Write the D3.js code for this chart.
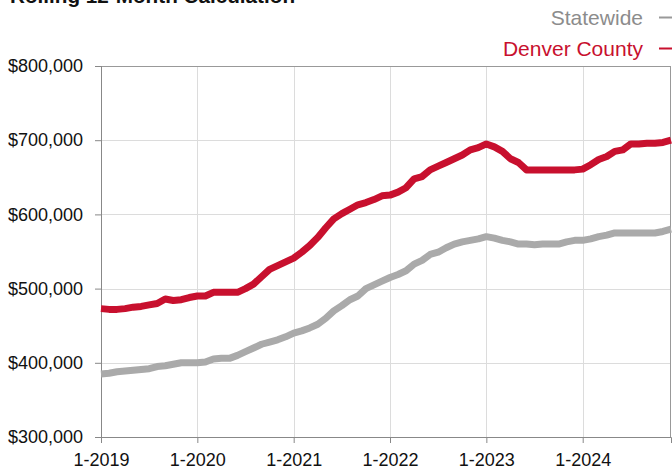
<!DOCTYPE html>
<html>
<head>
<meta charset="utf-8">
<script src="https://cdn.jsdelivr.net/npm/d3@7"></script>
<style>
  body { margin: 0; background: #fff; }
  svg { display: block; font-family: Helvetica, Arial, "Liberation Sans", sans-serif; }
</style>
</head>
<body>
<div id="chart"></div>
<script>
// tick labels along the bottom (one per January)
var yearLabels = ["1-2019", "1-2020", "1-2021", "1-2022", "1-2023", "1-2024"];

// monthly values, Jan 2019 .. Dec 2024 (rolling 12-month median price)
var statewide = [
  385000, 386000, 388000, 389000, 390000, 391000, 392000, 395000, 396000, 398000, 400000, 400000,
  400000, 401000, 405000, 406000, 406000, 410000, 415000, 420000, 425000, 428000, 431000, 435000,
  440000, 443000, 447000, 452000, 460000, 470000, 477000, 485000, 490000, 500000, 505000, 510000,
  515000, 519000, 524000, 533000, 538000, 546000, 549000, 555000, 560000, 563000, 565000, 567000,
  570000, 568000, 565000, 563000, 560000, 560000, 559000, 560000, 560000, 560000, 563000, 565000,
  565000, 567000, 570000, 572000, 575000, 575000, 575000, 575000, 575000, 575000, 577000, 580000
];
var denver = [
  473000, 472000, 472000, 473000, 475000, 476000, 478000, 480000, 486000, 484000, 485000, 488000,
  490000, 490000, 495000, 495000, 495000, 495000, 500000, 506000, 516000, 526000, 531000, 536000,
  541000, 549000, 558000, 569000, 582000, 594000, 601000, 607000, 613000, 616000, 620000, 625000,
  626000, 630000, 636000, 648000, 651000, 660000, 665000, 670000, 675000, 680000, 687000, 690000,
  695000, 691000, 685000, 675000, 670000, 660000, 660000, 660000, 660000, 660000, 660000, 660000,
  661000, 667000, 674000, 678000, 685000, 687000, 695000, 695000, 696000, 696000, 697000, 700000
];

var seriesNames = ["Statewide", "Denver County"];
var seriesColors = ["#aaaaaa", "#c8102e"];
var legendTextColors = ["#8c8c8c", "#c8102e"];

var svgWidth = 672;
var svgHeight = 466;

var margin = { top: 66, right: 1, bottom: 29, left: 101 };

var chartWidth = svgWidth - margin.left - margin.right;
var chartHeight = svgHeight - margin.top - margin.bottom;

var svg = d3.select("#chart")
  .append("svg")
  .attr("width", svgWidth)
  .attr("height", svgHeight);

// title (mostly cropped off at the top)
svg.append("text")
  .attr("x", 10)
  .attr("y", 3)
  .attr("font-size", 20.7)
  .attr("font-weight", "bold")
  .attr("fill", "#111")
  .text("Rolling 12-Month Calculation");

// legend
seriesNames.forEach(function(name, i) {
  var yy = 25 + i * 31;
  svg.append("text")
    .attr("x", 643)
    .attr("y", yy)
    .attr("text-anchor", "end")
    .attr("font-size", 21)
    .attr("fill", legendTextColors[i])
    .text(name);
  svg.append("line")
    .attr("x1", 659).attr("x2", 672)
    .attr("y1", yy - 7.5).attr("y2", yy - 7.5)
    .attr("stroke", i === 0 ? "#999" : seriesColors[i])
    .attr("stroke-width", 2);
});

var chartGroup = svg.append("g")
  .attr("transform", `translate(${margin.left}, ${margin.top})`);

var xScale = d3.scaleLinear()
  .domain([0, denver.length - 1])
  .range([0, chartWidth]);

var yScale = d3.scaleLinear()
  .domain([300000, 800000])
  .range([chartHeight, 0]);

var yTicks = d3.range(300000, 800001, 100000);
var xTicks = yearLabels.map((d, i) => i * 12);

// grid lines
chartGroup.append("g")
  .selectAll("line")
  .data(yTicks)
  .enter()
  .append("line")
  .attr("x1", 0).attr("x2", chartWidth)
  .attr("y1", d => Math.round(yScale(d)) + 0.5)
  .attr("y2", d => Math.round(yScale(d)) + 0.5)
  .attr("stroke", "#dcdcdc");

chartGroup.append("g")
  .selectAll("line")
  .data(xTicks)
  .enter()
  .append("line")
  .attr("x1", d => Math.round(xScale(d)) + 0.5)
  .attr("x2", d => Math.round(xScale(d)) + 0.5)
  .attr("y1", 0).attr("y2", chartHeight)
  .attr("stroke", "#dcdcdc");

// frame: top and right border
chartGroup.append("line")
  .attr("x1", 0).attr("x2", chartWidth)
  .attr("y1", 0.5).attr("y2", 0.5)
  .attr("stroke", "#999");
chartGroup.append("line")
  .attr("x1", chartWidth - 0.5).attr("x2", chartWidth - 0.5)
  .attr("y1", 0).attr("y2", chartHeight)
  .attr("stroke", "#999");

// axes
var leftAxis = d3.axisLeft(yScale)
  .tickValues(yTicks)
  .tickSize(6)
  .tickPadding(12)
  .tickFormat(d => "$" + d3.format(",")(d));

var bottomAxis = d3.axisBottom(xScale)
  .tickValues(xTicks)
  .tickSize(6)
  .tickPadding(10)
  .tickFormat((d, i) => yearLabels[i]);

var yAxisG = chartGroup.append("g").call(leftAxis);
var xAxisG = chartGroup.append("g")
  .attr("transform", `translate(0, ${chartHeight})`)
  .call(bottomAxis);

[yAxisG, xAxisG].forEach(function(g) {
  g.select(".domain").attr("stroke", "#888");
  g.selectAll(".tick line").attr("stroke", "#888");
  g.selectAll(".tick text")
    .attr("fill", "#111")
    .attr("font-size", 18)
    .attr("font-family", "Helvetica, Arial, 'Liberation Sans', sans-serif");
});
yAxisG.select(".domain").attr("d", `M0.5,0V${chartHeight}`);

// lines
var line = d3.line()
  .x((d, i) => xScale(i))
  .y(d => yScale(d));

[statewide, denver].forEach(function(series, i) {
  chartGroup.append("path")
    .datum(series)
    .attr("fill", "none")
    .attr("stroke", seriesColors[i])
    .attr("stroke-width", 7)
    .attr("stroke-linejoin", "round")
    .attr("d", line);
});
</script>
</body>
</html>
